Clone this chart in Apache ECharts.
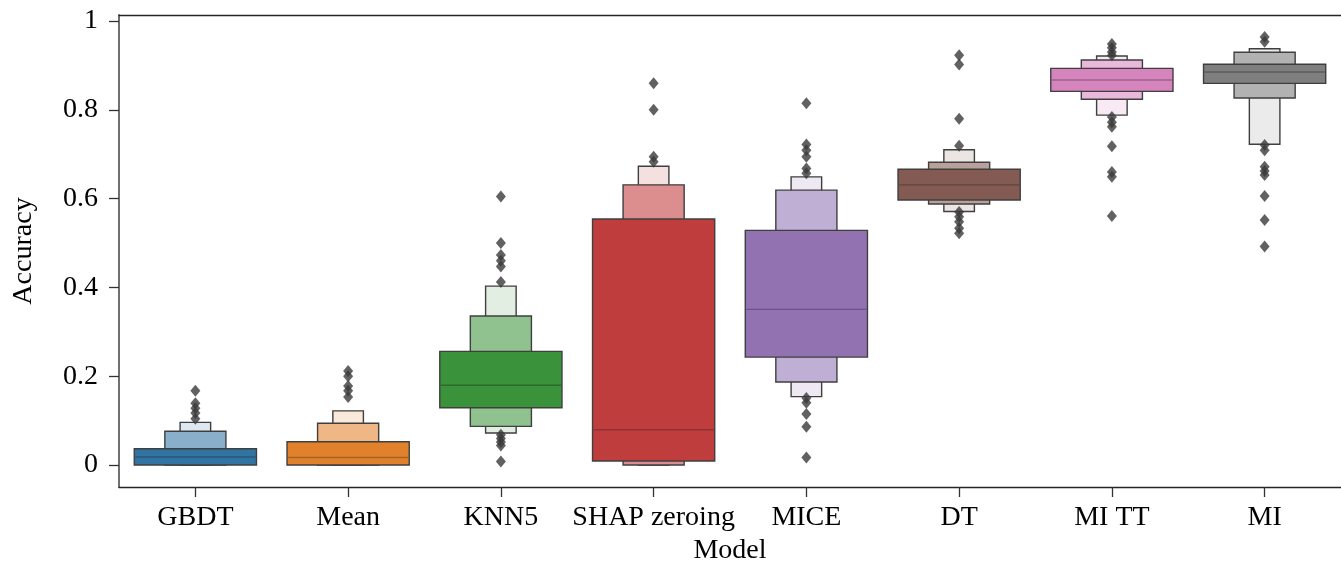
<!DOCTYPE html>
<html>
<head>
<meta charset="utf-8">
<script src="https://cdn.jsdelivr.net/npm/echarts@6/dist/echarts.min.js"></script>
<style>
  html, body { margin: 0; padding: 0; background: #ffffff; }
  #chart { width: 1341px; height: 564px; }
</style>
</head>
<body>
<div id="chart"></div>
<script>
// Letter-value (boxen) summary of accuracy per imputation model
const categories = ['GBDT', 'Mean', 'KNN5', 'SHAP zeroing', 'MICE', 'DT', 'MI TT', 'MI'];
const medians  = [0.018, 0.017, 0.1795, 0.0795, 0.3506, 0.631, 0.867, 0.885];
// innermost box (quartiles)
const box1Low  = [0, 0, 0.129, 0.009, 0.243, 0.597, 0.8416, 0.8596];
const box1High = [0.0367, 0.0525, 0.256, 0.554, 0.5285, 0.666, 0.8934, 0.9025];
// second letter value (eighths)
const box2Low  = [0, 0, 0.087, 0, 0.187, 0.588, 0.8236, 0.8266];
const box2High = [0.076, 0.094, 0.3356, 0.631, 0.619, 0.682, 0.912, 0.9295];
// third letter value (sixteenths)
const box3Low  = [0, 0, 0.072, 0, 0.154, 0.571, 0.788, 0.7223];
const box3High = [0.096, 0.122, 0.403, 0.673, 0.649, 0.710, 0.921, 0.9376];
// points outside the last letter value
const outliers = [
  [0.167, 0.139, 0.128, 0.117, 0.104],
  [0.212, 0.2, 0.178, 0.167, 0.153],
  [0.605, 0.5, 0.473, 0.46, 0.447, 0.412, 0.068, 0.06, 0.052, 0.044, 0.008],
  [0.86, 0.8, 0.694, 0.683],
  [0.815, 0.722, 0.709, 0.694, 0.668, 0.657, 0.151, 0.14, 0.115, 0.086, 0.017],
  [0.923, 0.902, 0.78, 0.719, 0.57, 0.559, 0.548, 0.533, 0.522],
  [0.948, 0.94, 0.93, 0.923, 0.784, 0.772, 0.762, 0.718, 0.66, 0.649, 0.561],
  [0.964, 0.953, 0.7207, 0.709, 0.672, 0.662, 0.653, 0.606, 0.552, 0.492]
];
const yTicks = [0, 0.2, 0.4, 0.6, 0.8, 1];

// Fill colours per model: [quartile box, eighths box, sixteenths box]
const palette = [
  ['#3274a1', '#8aafcb', '#dde8f1'],
  ['#e1812c', '#efb785', '#f9e9db'],
  ['#3a923a', '#8fc28f', '#e1eee1'],
  ['#c03d3e', '#dc8e8e', '#f5e0e0'],
  ['#9372b2', '#c0afd5', '#eee8f3'],
  ['#845b53', '#b9a09b', '#ebe5e4'],
  ['#d684bd', '#e9b8da', '#f7eaf4'],
  ['#7f7f7f', '#b2b2b2', '#ebebeb']
];
const medianColors = ['#28587a', '#a8612a', '#2d6a2d', '#8e3233', '#6d5585', '#5e4440', '#9c638b', '#5c5c5c'];
const widthFrac = [0.8, 0.4, 0.2];
const edgeColor = '#3f3f3f';
const fontFamily = '"Liberation Serif", "DejaVu Serif", serif';

// Build box items, drawing the outermost (narrowest) levels first
const boxItems = [];
const levels = [[box3Low, box3High], [box2Low, box2High], [box1Low, box1High]];
[2, 1, 0].forEach(function (lvl, k) {
  const pair = levels[k];
  categories.forEach(function (c, i) {
    boxItems.push([i, pair[0][i], pair[1][i], lvl, medians[i]]);
  });
});

const outlierPoints = [];
outliers.forEach(function (vals, i) {
  vals.forEach(function (v) { outlierPoints.push([i, v]); });
});

function renderBox(params, api) {
  const cat = api.value(0);
  const lo = api.value(1);
  const hi = api.value(2);
  const lvl = api.value(3);
  const med = api.value(4);
  const band = api.size([1, 0])[0];
  const w = band * widthFrac[lvl];
  const pLo = api.coord([cat, lo]);
  const pHi = api.coord([cat, hi]);
  const children = [{
    type: 'rect',
    shape: { x: pLo[0] - w / 2, y: pHi[1], width: w, height: pLo[1] - pHi[1] },
    style: { fill: palette[cat][lvl], stroke: edgeColor, lineWidth: 1.4 }
  }];
  if (lvl === 0) {
    const pMed = api.coord([cat, med]);
    children.push({
      type: 'line',
      shape: { x1: pLo[0] - w / 2 + 1, y1: pMed[1], x2: pLo[0] + w / 2 - 1, y2: pMed[1] },
      style: { stroke: medianColors[cat], lineWidth: 1.4 }
    });
  }
  return { type: 'group', children: children };
}

const chart = echarts.init(document.getElementById('chart'), null, { renderer: 'canvas' });
chart.setOption({
  animation: false,
  backgroundColor: '#ffffff',
  textStyle: { fontFamily: fontFamily },
  grid: { left: 119, right: 0, top: 15, bottom: 77, containLabel: false, outerBoundsMode: 'none' },
  xAxis: [{
    type: 'category',
    data: categories,
    boundaryGap: true,
    name: 'Model',
    nameLocation: 'middle',
    nameGap: 49,
    nameTextStyle: { fontFamily: fontFamily, fontSize: 28, color: '#000' },
    axisLine: { show: true, onZero: false, lineStyle: { color: '#262626', width: 1.3 } },
    axisTick: { show: true, alignWithLabel: true, length: 10, lineStyle: { color: '#333', width: 1.3 } },
    axisLabel: { fontFamily: fontFamily, fontSize: 28, color: '#000', margin: 17, interval: 0 },
    splitLine: { show: false }
  }, {
    type: 'category',
    data: categories,
    position: 'top',
    axisLine: { show: true, onZero: false, lineStyle: { color: '#262626', width: 1.3 } },
    axisTick: { show: false },
    axisLabel: { show: false },
    splitLine: { show: false }
  }],
  yAxis: {
    type: 'value',
    min: -0.0495,
    max: 1.0135,
    name: 'Accuracy',
    nameLocation: 'middle',
    nameGap: 81,
    nameRotate: 90,
    nameTextStyle: { fontFamily: fontFamily, fontSize: 28, color: '#000' },
    axisLine: { show: true, onZero: false, lineStyle: { color: '#707070', width: 2 } },
    axisTick: { show: true, length: 10, customValues: yTicks, lineStyle: { color: '#333', width: 1.3 } },
    axisLabel: { fontFamily: fontFamily, fontSize: 28, color: '#000', margin: 21, customValues: yTicks },
    splitLine: { show: false }
  },
  series: [{
    type: 'custom',
    renderItem: renderBox,
    data: boxItems,
    encode: { x: 0, y: [1, 2] },
    z: 2
  }, {
    type: 'scatter',
    data: outlierPoints,
    symbol: 'diamond',
    symbolSize: [10, 12],
    itemStyle: { color: '#3a3a3a' },
    z: 3
  }]
});
</script>
</body>
</html>
